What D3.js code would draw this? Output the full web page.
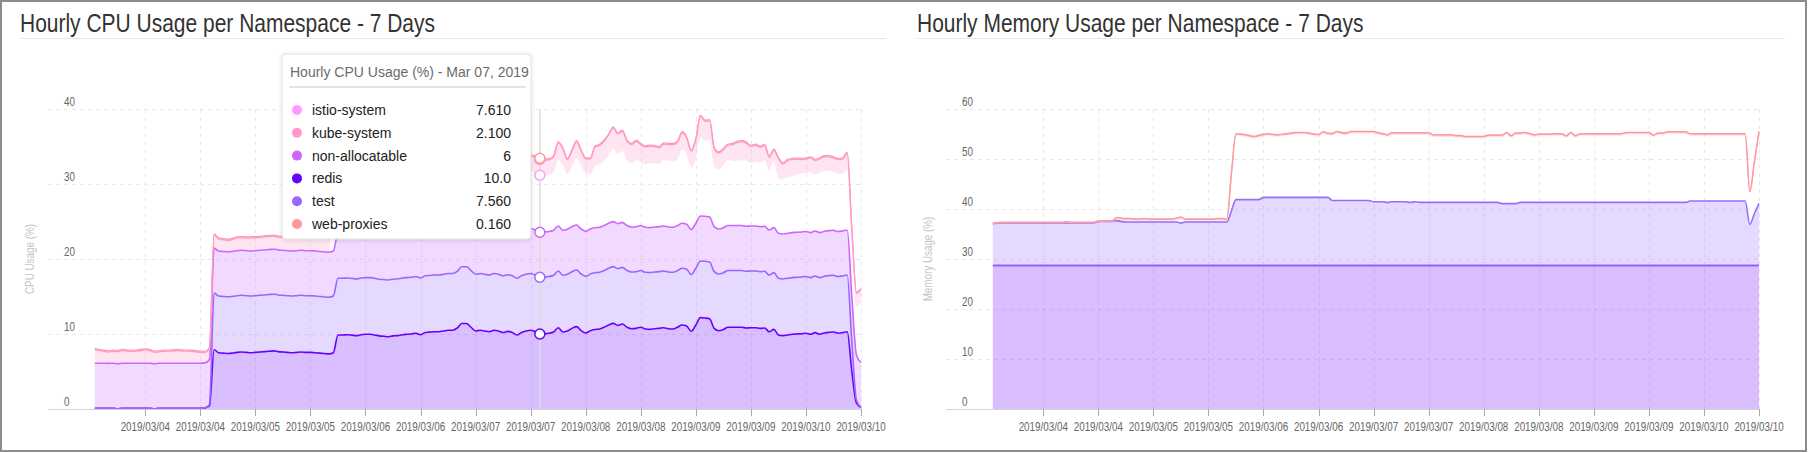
<!DOCTYPE html>
<html><head><meta charset="utf-8">
<script src="https://cdn.jsdelivr.net/npm/d3@7"></script>
<style>
html,body{margin:0;padding:0;background:#fff;}
svg{display:block;}
</style></head><body>
<svg id="chart" width="1808" height="453"></svg>
<script>
// ---------- data ----------
const namespaces = ["redis","test","non-allocatable","istio-system","kube-system","web-proxies"];
const seriesColors = ["#6600ff","#9966ff","#cc66ff","#ff99ff","#ff99cc","#ff9999"];
const fillOpacity = [0.25,0.25,0.25,0,0.25,0.25];
const lineOpacity = [1,1,1,0,1,1];
const firstSampleUTC = [2019,2,3,13];   // hourly samples, 168 points
const axisStartUTC = [2019,2,3,2,48];
const axisEndUTC = [2019,2,10,12];
const firstTickUTC = [2019,2,4,0];
const cpuTicks = [0,10,20,30,40];
const memTicks = [0,10,20,30,40,50,60];
const tooltipIndex = 97;
const tooltipFormats = {"istio-system":".3f","kube-system":".3f","non-allocatable":"d","redis":".1f","test":".3f","web-proxies":".3f"};

const cpuRedis = [0.1,0.1,0.1,0.08,0.1,0.02,0.1,0.1,0.1,0.1,0.1,
0.1,0.1,0.02,0.1,0.1,0.1,0.1,0.1,0.1,0.1,0.1,0.1,0.1,0.15,
0.4,
7.9,7.5,7.45,7.4,7.45,7.55,7.6,7.55,7.5,7.55,7.6,7.65,7.7,7.75,7.65,7.6,7.55,7.5,7.55,7.6,7.55,7.55,7.5,7.45,7.4,7.35,7.5,
9.87,9.87,9.9,9.85,9.78,9.9,9.96,9.96,9.87,9.75,9.7,9.64,9.75,9.78,9.9,9.96,10.0,10.1,9.9,10.2,10.25,10.3,10.3,10.4,10.5,10.5,10.8,11.4,11.4,10.9,10.4,10.5,10.4,10.3,10.5,10.4,10.2,10.35,10.2,9.87,10.2,10.4,10.5,10.3,10.0,
10.04,10.1,10.27,10.84,10.27,10.4,10.75,10.98,10.44,10.13,10.44,10.6,10.67,10.9,11.2,11.42,11.15,11.33,10.9,10.7,10.75,10.9,10.67,10.62,10.7,10.75,10.84,10.7,10.67,10.9,11.2,11.07,10.36,11.2,12.18,12.13,12.04,10.75,10.44,10.6,10.9,10.9,10.9,10.9,10.8,10.84,10.84,10.75,10.8,10.3,10.62,9.87,9.78,9.87,9.96,10.0,10.04,10.1,9.96,10.18,9.96,10.13,10.22,10.27,10.1,10.18,10.3,
5.0,0.8,0.2];

const cpuTest = [0,0,0,0,0,0,0,0,0,0,0,0,0,0,0,0,0,0,0,0,0,0,0,0,0,
0.2,
7.56,7.56,7.56,7.56,7.56,7.56,7.56,7.56,7.56,7.56,7.56,7.56,7.56,7.56,7.56,7.56,7.56,7.56,7.56,7.56,
7.56,7.56,7.56,7.56,7.56,7.56,7.56,7.56,7.56,7.56,7.56,7.56,7.56,7.56,7.56,7.56,7.56,7.56,7.56,7.56,
7.56,7.56,7.56,7.56,7.56,7.56,7.56,7.56,7.56,7.56,7.56,7.56,7.56,7.56,7.56,7.56,7.56,7.56,7.56,7.56,
7.56,7.56,7.56,7.56,7.56,7.56,7.56,7.56,7.56,7.56,7.56,7.56,7.56,7.56,7.56,7.56,7.56,7.56,7.56,7.56,
7.56,7.56,7.56,7.56,7.56,7.56,7.56,7.56,7.56,7.56,7.56,7.56,7.56,7.56,7.56,7.56,7.56,7.56,7.56,7.56,
7.56,7.56,7.56,7.56,7.56,7.56,7.56,7.56,7.56,7.56,7.56,7.56,7.56,7.56,7.56,7.56,7.56,7.56,7.56,7.56,
7.56,7.56,7.56,7.56,7.56,7.56,7.56,7.56,7.56,7.56,7.56,7.56,7.56,7.56,7.56,7.56,7.56,7.56,7.56,
4.0,0.4,0];

const cpuNonAllocatable = [6,6,6,6,6,6,6,6,6,6,6,6,6,6,6,6,6,6,6,6,6,6,6,6,6,6,6,6,
6,6,6,6,6,6,6,6,6,6,6,6,6,6,6,6,6,6,6,6,6,6,6,6,6,6,6,6,
6,6,6,6,6,6,6,6,6,6,6,6,6,6,6,6,6,6,6,6,6,6,6,6,6,6,6,6,
6,6,6,6,6,6,6,6,6,6,6,6,6,6,6,6,6,6,6,6,6,6,6,6,6,6,6,6,
6,6,6,6,6,6,6,6,6,6,6,6,6,6,6,6,6,6,6,6,6,6,6,6,6,6,6,6,
6,6,6,6,6,6,6,6,6,6,6,6,6,6,6,6,6,6,6,6,6,6,6,6,6,6,6,6];

const cpuIstio = [0,0,0,0,0,0,0,0,0,0,0,0,0,0,0,0,0,0,0,0,0,0,0,0,0,0,
0,0,0,0,0,0,0,0,0,0,0,0,0,0,0,0,0,0,0,0,0,0,0,0,0,0,
7.6,
7.6,7.55,7.6,7.65,7.6,7.55,7.6,7.6,7.65,7.7,7.6,7.55,7.6,7.6,7.65,7.6,7.55,7.6,7.6,7.65,7.7,7.6,7.6,7.55,7.6,7.6,7.65,7.6,7.6,7.55,7.6,7.6,7.65,7.6,7.6,7.55,7.6,7.6,7.6,7.65,7.6,7.6,7.6,7.55,
7.61,7.47,7.56,7.69,8.78,8.71,7.40,8.03,8.88,8.44,7.75,7.34,8.25,8.31,8.65,9.05,9.75,9.37,9.55,8.75,8.5,8.85,8.4,8.41,8.61,8.54,8.31,8.79,8.8,8.83,8.86,9.81,9.31,8.3,8.68,10.55,10.08,10.24,7.98,7.89,8.34,8.76,8.6,8.68,8.71,8.73,8.4,8.57,8.5,8.78,7.96,8.78,7.32,7.29,7.5,7.49,7.75,7.76,7.8,8.01,7.54,7.97,8.05,7.99,7.8,7.7,7.6,8.0,
7.0,6.4,8.1];

const cpuKube = [1.83,1.69,1.59,1.52,1.59,1.64,1.7,1.64,1.61,1.61,1.69,1.78,1.69,1.54,1.52,1.59,1.61,1.64,1.7,1.64,1.61,1.59,1.54,1.44,1.38,
1.5,
1.75,1.6,1.55,1.5,1.6,1.7,1.66,1.7,1.75,1.73,1.7,1.75,1.73,1.73,1.7,1.75,1.8,1.8,1.8,1.8,1.8,1.8,1.8,1.8,1.8,1.8,
2.1,
2.1,2.1,2.15,2.1,2.05,2.1,2.1,2.15,2.1,2.1,2.05,2.1,2.1,2.15,2.1,2.1,2.1,2.05,2.1,2.1,2.15,2.1,2.1,2.1,2.05,2.1,2.1,2.15,2.1,2.1,2.1,2.1,2.05,2.1,2.1,2.15,2.1,2.1,2.1,2.05,2.1,2.1,2.1,2.15,
2.1,2.1,2.0,2.1,2.3,2.2,1.9,2.1,2.2,2.0,1.9,2.0,2.5,2.6,2.6,2.7,2.75,2.6,2.6,2.5,2.5,2.55,2.4,2.3,2.25,2.2,2.2,2.15,2.2,2.2,2.25,2.25,2.2,2.15,2.5,2.75,2.6,2.6,2.45,2.25,2.1,1.95,2.2,2.4,2.45,2.35,2.2,2.2,2.1,2.0,1.75,1.55,2.65,2.05,2.2,2.25,2.0,1.9,1.85,1.95,1.85,1.85,1.9,1.85,1.85,1.9,2.0,2.25,
2.0,1.84,1.64];

const cpuWeb = [0.16,0.16,0.16,0.16,0.16,0.16,0.16,0.16,0.16,0.16,0.16,0.16,0.16,0.16,0.16,0.16,0.16,0.16,0.16,0.16,0.16,0.16,0.16,0.16,0.16,0.16,0.16,0.16,
0.16,0.16,0.16,0.16,0.16,0.16,0.16,0.16,0.16,0.16,0.16,0.16,0.16,0.16,0.16,0.16,0.16,0.16,0.16,0.16,0.16,0.16,0.16,0.16,0.16,0.16,0.16,0.16,
0.16,0.16,0.16,0.16,0.16,0.16,0.16,0.16,0.16,0.16,0.16,0.16,0.16,0.16,0.16,0.16,0.16,0.16,0.16,0.16,0.16,0.16,0.16,0.16,0.16,0.16,0.16,0.16,
0.16,0.16,0.16,0.16,0.16,0.16,0.16,0.16,0.16,0.16,0.16,0.16,0.16,0.16,0.16,0.16,0.16,0.16,0.16,0.16,0.16,0.16,0.16,0.16,0.16,0.16,0.16,0.16,
0.16,0.16,0.16,0.16,0.16,0.16,0.16,0.16,0.16,0.16,0.16,0.16,0.16,0.16,0.16,0.16,0.16,0.16,0.16,0.16,0.16,0.16,0.16,0.16,0.16,0.16,0.16,0.16,
0.16,0.16,0.16,0.16,0.16,0.16,0.16,0.16,0.16,0.16,0.16,0.16,0.16,0.16,0.16,0.16,0.16,0.16,0.16,0.16,0.16,0.16,0.16,0.16,0.16,0.16,0.16,0.16];

const memRedis = [28.7,28.7,28.7,28.7,28.7,28.7,28.7,28.7,28.7,28.7,28.7,28.7,28.7,28.7,28.7,28.7,28.7,28.7,28.7,28.7,28.7,28.7,28.7,28.7,28.7,28.7,28.7,28.7,
28.7,28.7,28.7,28.7,28.7,28.7,28.7,28.7,28.7,28.7,28.7,28.7,28.7,28.7,28.7,28.7,28.7,28.7,28.7,28.7,28.7,28.7,28.7,28.7,28.7,28.7,28.7,28.7,
28.7,28.7,28.7,28.7,28.7,28.7,28.7,28.7,28.7,28.7,28.7,28.7,28.7,28.7,28.7,28.7,28.7,28.7,28.7,28.7,28.7,28.7,28.7,28.7,28.7,28.7,28.7,28.7,
28.7,28.7,28.7,28.7,28.7,28.7,28.7,28.7,28.7,28.7,28.7,28.7,28.7,28.7,28.7,28.7,28.7,28.7,28.7,28.7,28.7,28.7,28.7,28.7,28.7,28.7,28.7,28.7,
28.7,28.7,28.7,28.7,28.7,28.7,28.7,28.7,28.7,28.7,28.7,28.7,28.7,28.7,28.7,28.7,28.7,28.7,28.7,28.7,28.7,28.7,28.7,28.7,28.7,28.7,28.7,28.7,
28.7,28.7,28.7,28.7,28.7,28.7,28.7,28.7,28.7,28.7,28.7,28.7,28.7,28.7,28.7,28.7,28.7,28.7,28.7,28.7,28.7,28.7,28.7,28.7,28.7,28.7,28.7,28.7];

const memTest = [8.37,8.45,
8.5,8.5,8.5,8.5,8.5,8.5,8.5,8.5,8.5,8.5,8.5,8.5,8.5,8.5,8.5,8.5,8.5,8.5,8.5,8.5,8.5,
8.8,8.8,8.8,8.8,8.97,8.8,
8.7,8.7,8.7,8.7,8.7,8.7,8.7,8.7,8.7,8.7,8.7,8.7,
8.5,
8.7,8.7,8.7,8.7,8.7,8.7,8.7,8.7,8.7,8.7,
10.9,
13.17,13.17,13.17,13.17,13.17,13.17,
13.63,13.63,13.63,13.63,13.63,13.63,13.63,13.63,13.63,13.63,13.63,13.63,13.63,13.63,13.63,
13.0,13.0,13.0,13.0,13.0,13.0,13.0,13.0,13.0,
12.75,12.75,12.75,12.6,12.75,12.75,12.75,12.75,12.6,12.75,
12.63,12.63,12.63,12.63,12.63,12.63,12.63,12.63,12.63,12.63,12.63,12.63,12.63,12.63,12.63,12.63,12.63,12.63,
12.37,12.37,12.37,12.37,
12.63,12.63,12.63,12.63,12.63,12.63,12.63,12.63,12.63,12.63,12.63,12.63,12.63,12.63,12.63,12.63,12.63,12.63,12.63,12.63,12.63,12.63,12.63,12.63,12.63,12.63,12.63,12.63,12.63,12.63,12.63,12.63,12.63,12.63,12.63,12.63,12.63,
12.9,12.9,12.9,12.9,12.9,12.9,12.9,12.9,12.9,12.9,12.9,12.9,12.9,
8.2,10.4,12.43];

const memIstio = [0,0,0,0,0,0,0,0,0,0,0,0,0,0,0,0,
0.15,
0,0,0,0,0,0,0,0,0,0,
0.05,0.1,0.1,0.1,0,0,0.1,0,0,0,0,0,0,0.2,0.6,0,0,0,0,0,0,0,0.1,0.1,0,
6.95,
12.75,12.68,12.55,12.38,12.21,12.43,12.17,12.29,12.17,12.09,12.17,12.29,12.42,12.55,12.55,12.55,12.42,12.22,12.15,12.69,12.42,12.95,13.38,13.15,13.05,13.38,13.38,13.38,13.38,13.38,13.63,13.37,13.2,13.12,13.37,13.37,13.37,13.37,13.52,13.37,13.49,13.49,13.49,13.09,13.09,13.09,13.09,13.09,12.92,12.92,12.75,12.75,12.75,12.75,12.75,13.02,13.02,13.02,13.28,13.81,13.15,13.68,13.42,13.55,13.32,13.09,13.22,13.22,13.22,13.29,13.29,13.29,12.89,13.55,12.89,
13.29,13.29,13.29,13.29,13.29,13.29,13.29,13.29,13.29,13.29,
13.55,13.55,13.55,13.55,13.55,13.55,
13.02,13.42,13.42,
13.69,13.69,13.69,13.69,13.69,
13.02,13.02,13.02,13.02,13.02,13.02,13.02,13.02,13.02,13.02,13.02,13.02,13.02,
6.15,9.95,13.95];

const memKube = [0.05,0.05,0.05,0.05,0.05,0.05,0.05,0.05,0.05,0.05,0.05,0.05,0.05,0.05,0.05,0.05,0.05,0.05,0.05,0.05,0.05,0.05,0.05,0.05,0.05,0.05,0.05,
0.5,0.5,0.5,0.5,0.5,0.5,0.5,0.5,0.5,0.5,0.5,0.5,0.5,0.5,0.5,0.5,0.5,0.5,0.5,0.5,0.5,0.5,0.5,0.5,0.5,
0.35,0.35,0.35,0.35,0.35,0.35,0.35,0.35,0.35,0.35,0.35,0.35,0.35,0.35,0.35,0.35,0.35,0.35,0.35,0.35,0.35,0.35,0.35,0.35,0.35,0.35,0.35,0.35,0.35,
0.35,0.35,0.35,0.35,0.35,0.35,0.35,0.35,0.35,0.35,0.35,0.35,0.35,0.35,0.35,0.35,0.35,0.35,0.35,0.35,0.35,0.35,0.35,0.35,0.35,0.35,0.35,0.35,0.35,
0.35,0.35,0.35,0.35,0.35,0.35,0.35,0.35,0.35,0.35,0.35,0.35,0.35,0.35,0.35,0.35,0.35,0.35,0.35,0.35,0.35,0.35,0.35,0.35,0.35,0.35,0.35,0.35,0.35,
0.35,0.35,0.35,0.35,0.35,0.35,0.35,0.35,0.35,0.35,0.35,0.35,0.35,0.35,0.35,0.35,0.35,0.35,0.35,0.35,0.35,0.35,0.35,0.35,0.35,0.35,0.35,0.35,0.35];

const memWeb = [0.1,0.1,0.1,0.1,0.1,0.1,0.1,0.1,0.1,0.1,0.1,0.1,0.1,0.1,0.1,0.1,0.1,0.1,0.1,0.1,0.1,0.1,0.1,0.1,0.1,0.1,0.1,0.1,
0.1,0.1,0.1,0.1,0.1,0.1,0.1,0.1,0.1,0.1,0.1,0.1,0.1,0.1,0.1,0.1,0.1,0.1,0.1,0.1,0.1,0.1,0.1,0.1,0.1,0.1,0.1,0.1,
0.1,0.1,0.1,0.1,0.1,0.1,0.1,0.1,0.1,0.1,0.1,0.1,0.1,0.1,0.1,0.1,0.1,0.1,0.1,0.1,0.1,0.1,0.1,0.1,0.1,0.1,0.1,0.1,
0.1,0.1,0.1,0.1,0.1,0.1,0.1,0.1,0.1,0.1,0.1,0.1,0.1,0.1,0.1,0.1,0.1,0.1,0.1,0.1,0.1,0.1,0.1,0.1,0.1,0.1,0.1,0.1,
0.1,0.1,0.1,0.1,0.1,0.1,0.1,0.1,0.1,0.1,0.1,0.1,0.1,0.1,0.1,0.1,0.1,0.1,0.1,0.1,0.1,0.1,0.1,0.1,0.1,0.1,0.1,0.1,
0.1,0.1,0.1,0.1,0.1,0.1,0.1,0.1,0.1,0.1,0.1,0.1,0.1,0.1,0.1,0.1,0.1,0.1,0.1,0.1,0.1,0.1,0.1,0.1,0.1,0.1,0.1,0.1];

// ---------- drawing ----------
const svg = d3.select("#chart");
const FONT = "'Liberation Sans',Arial,sans-serif";
const NARROW_SCALE = 0.82;   // condensed face emulated by horizontal compression

svg.append("rect").attr("x",1).attr("y",1).attr("width",1805).attr("height",450)
  .attr("fill","#fff").attr("stroke","#8c8c8c").attr("stroke-width",2);

const defs = svg.append("defs");
const f = defs.append("filter").attr("id","shadow").attr("x","-10%").attr("y","-10%").attr("width","120%").attr("height","120%");
f.append("feDropShadow").attr("dx",0).attr("dy",1).attr("stdDeviation",2).attr("flood-color","#000").attr("flood-opacity",0.12);

const t0 = Date.UTC(...firstSampleUTC);
const times = cpuRedis.map((_, i) => new Date(t0 + i * 3600e3));

function buildRows(arrays) {
  return times.map((t, i) => {
    const r = {t};
    namespaces.forEach((k, j) => { r[k] = arrays[j][i]; });
    return r;
  });
}
function narrow(sel, xf, yf, extra) {
  return sel.attr("x", 0).attr("y", 0)
    .attr("transform", (d, i) => `translate(${typeof xf === "function" ? xf(d, i) : xf},${typeof yf === "function" ? yf(d, i) : yf})${extra || ""} scale(${NARROW_SCALE},1)`)
    .attr("font-family", FONT);
}

function panel(opts) {
  const g = svg.append("g");
  const {gl, gr, top, bottom, yMax, yTicks, title, titleX, lineX2, yTitle, arrays, keys, lineOrder} = opts;
  narrow(g.append("text").text(title), titleX, 32).attr("font-size", 25.6).attr("fill", "#333");
  g.append("line").attr("x1", titleX).attr("x2", lineX2).attr("y1", 38.5).attr("y2", 38.5)
    .attr("stroke", "#e6e6e6").attr("stroke-width", 1);

  const x = d3.scaleUtc().domain([new Date(Date.UTC(...axisStartUTC)), new Date(Date.UTC(...axisEndUTC))]).range([gl, gr]);
  const y = d3.scaleLinear().domain([0, yMax]).range([bottom, top]);
  const ticks = d3.utcHour.every(12).range(new Date(Date.UTC(...firstTickUTC)), new Date(Date.UTC(...axisEndUTC) + 1));

  g.append("g").selectAll("line").data(yTicks.filter(v => v > 0)).join("line")
    .attr("x1", gl).attr("x2", gr).attr("y1", d => y(d) + 0.5).attr("y2", d => y(d) + 0.5)
    .attr("stroke", "#e8e8e8").attr("stroke-dasharray", "4,4");
  g.append("g").selectAll("line").data(ticks).join("line")
    .attr("x1", d => Math.round(x(d)) + 0.5).attr("x2", d => Math.round(x(d)) + 0.5)
    .attr("y1", top).attr("y2", bottom)
    .attr("stroke", "#e8e8e8").attr("stroke-dasharray", "4,4");

  const rows = buildRows(arrays);
  const stack = d3.stack().keys(keys)(rows);
  const area = d3.area().x(d => x(d.data.t)).y0(d => y(d[0])).y1(d => y(d[1])).curve(d3.curveMonotoneX);
  const line = d3.line().x(d => x(d.data.t)).y(d => y(d[1])).curve(d3.curveMonotoneX);
  const ci = s => namespaces.indexOf(s.key);
  g.append("g").selectAll("path").data(stack).join("path")
    .attr("d", area)
    .attr("fill", s => seriesColors[ci(s)])
    .attr("fill-opacity", s => fillOpacity[ci(s)]);
  const ordered = lineOrder.map(k => stack.find(s => s.key === k));
  g.append("g").selectAll("path").data(ordered).join("path")
    .attr("d", line).attr("fill", "none")
    .attr("stroke", s => (opts.lineColors && opts.lineColors[s.key]) || seriesColors[ci(s)])
    .attr("stroke-opacity", s => lineOpacity[ci(s)])
    .attr("stroke-width", s => (opts.lineWidths && opts.lineWidths[s.key]) || 1.6);

  g.append("line").attr("x1", gl).attr("x2", gr).attr("y1", bottom + 0.5).attr("y2", bottom + 0.5)
    .attr("stroke", "#d4d4d4");
  g.append("g").selectAll("line").data(ticks).join("line")
    .attr("x1", d => Math.round(x(d)) + 0.5).attr("x2", d => Math.round(x(d)) + 0.5)
    .attr("y1", bottom).attr("y2", bottom + 7).attr("stroke", "#aaa");
  const fmt = d3.utcFormat("%Y/%m/%d");
  narrow(g.append("g").selectAll("text").data(ticks).join("text"), d => x(d), 431)
    .attr("text-anchor", "middle").attr("font-size", 12).attr("fill", "#666").text(fmt);

  narrow(g.append("g").selectAll("text").data(yTicks).join("text"), gl + 16, d => y(d) - 3.5)
    .attr("font-size", 12).attr("fill", "#666").text(d => d);
  narrow(g.append("text").text(yTitle), gl - 14, (top + bottom) / 2, " rotate(-90)")
    .attr("text-anchor", "middle").attr("font-size", 12).attr("fill", "#c4c4c4");

  return {g, x, y, stack, rows};
}

const cpu = panel({gl: 48, gr: 861, top: 109, bottom: 409, yMax: 40, yTicks: cpuTicks,
  title: "Hourly CPU Usage per Namespace - 7 Days", titleX: 20, lineX2: 886, yTitle: "CPU Usage (%)",
  arrays: [cpuRedis, cpuTest, cpuNonAllocatable, cpuIstio, cpuKube, cpuWeb], keys: namespaces,
  lineOrder: ["redis","test","non-allocatable","istio-system","web-proxies","kube-system"],
  lineWidths: {"web-proxies": 1.1, "kube-system": 1.4}});

const memKeys = ["redis","test","istio-system","kube-system","web-proxies"];
const mem = panel({gl: 946, gr: 1759, top: 109, bottom: 409, yMax: 60, yTicks: memTicks,
  title: "Hourly Memory Usage per Namespace - 7 Days", titleX: 917, lineX2: 1785, yTitle: "Memory Usage (%)",
  arrays: [memRedis, memTest, memTest.map(() => 0), memIstio, memKube, memWeb], keys: memKeys,
  lineOrder: ["redis","test","istio-system","kube-system","web-proxies"],
  lineColors: {"redis": "#9a5cff", "test": "#9070ff", "kube-system": "#ffb0c8"},
  lineWidths: {"redis": 2.2, "kube-system": 1.2, "web-proxies": 1.4}});

// ---------- tooltip / pointer on CPU chart ----------
const tt = times[tooltipIndex];
const px = cpu.x(tt);
cpu.g.append("line").attr("x1", px).attr("x2", px).attr("y1", 109).attr("y2", 409)
  .attr("stroke", "#dcdcdc").attr("stroke-width", 1.5);
cpu.g.append("g").selectAll("circle").data(cpu.stack).join("circle")
  .attr("cx", px).attr("cy", s => cpu.y(s[tooltipIndex][1])).attr("r", 5)
  .attr("fill", "#fff").attr("stroke", s => seriesColors[namespaces.indexOf(s.key)]).attr("stroke-width", 1.5);

const tip = svg.append("g");
tip.append("rect").attr("x", 282).attr("y", 54).attr("width", 249).attr("height", 185).attr("rx", 4)
  .attr("fill", "#fff").attr("stroke", "#e2e2e2").attr("filter", "url(#shadow)");
tip.append("text").attr("x", 290).attr("y", 76.5).attr("font-family", FONT).attr("font-size", 14).attr("fill", "#6b6b6b")
  .text("Hourly CPU Usage (%) - " + d3.utcFormat("%b %d, %Y")(tt));
tip.append("line").attr("x1", 289).attr("x2", 526).attr("y1", 87).attr("y2", 87).attr("stroke", "#e4e4e4").attr("stroke-width", 2);
const order = namespaces.slice().sort();
const rowsSel = tip.selectAll("g.row").data(order).join("g").attr("class", "row")
  .attr("transform", (d, i) => `translate(0,${110 + i * 22.8})`);
const byKey = {"redis": cpuRedis, "test": cpuTest, "non-allocatable": cpuNonAllocatable, "istio-system": cpuIstio, "kube-system": cpuKube, "web-proxies": cpuWeb};
rowsSel.append("circle").attr("cx", 297).attr("cy", 0).attr("r", 5).attr("fill", d => seriesColors[namespaces.indexOf(d)]);
rowsSel.append("text").attr("x", 312).attr("y", 5).attr("font-family", FONT).attr("font-size", 14).attr("fill", "#222").text(d => d);
rowsSel.append("text").attr("x", 511).attr("y", 5).attr("text-anchor", "end").attr("font-family", FONT).attr("font-size", 14).attr("fill", "#222")
  .text(d => d3.format(tooltipFormats[d])(byKey[d][tooltipIndex]));
</script>
</body></html>
